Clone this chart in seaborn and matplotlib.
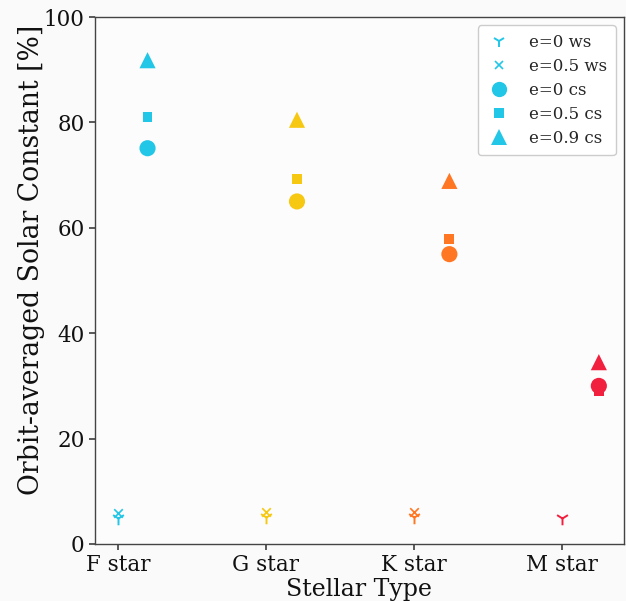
import numpy as np
import pandas as pd
import matplotlib
matplotlib.use("Agg")
import matplotlib.pyplot as plt
import seaborn as sns
from matplotlib.lines import Line2D

stellar_types = ["F star", "G star", "K star", "M star"]
star_colors = ["#22c6e6", "#f7c812", "#ff7722", "#f2203f"]

e0_ws = [5.0, 5.1, 5.1, 5.0]
e05_ws = [5.9, 6.0, 6.0, np.nan]
e0_cs = [75.1, 65.0, 55.0, 30.0]
e05_cs = [81.0, 69.3, 57.8, 29.0]
e09_cs = [91.8, 80.5, 68.9, 34.5]

series_labels = ["e=0 ws", "e=0.5 ws", "e=0 cs", "e=0.5 cs", "e=0.9 cs"]

sns.set_theme(style="ticks")
plt.rcParams["font.family"] = ["DejaVu Serif"]

fig = plt.figure(figsize=(6.26, 6.01), dpi=100, facecolor="#fafafa")
ax = fig.add_axes([95/626, 1-544/601, (624-95)/626, (544-17)/601])
ax.set_facecolor("#fcfcfc")

base = np.arange(len(stellar_types))
cs_offsets = np.array([0.2, 0.21, 0.24, 0.25])
series = [
    (e0_ws, "1", False, 95, 1.4),
    (e05_ws, "x", False, 38, 1.2),
    (e0_cs, "o", True, 135, 0),
    (e05_cs, "s", True, 50, 0),
    (e09_cs, "^", True, 135, 0),
]
for vals, m, shifted, s, lw in series:
    xs = base + (cs_offsets if shifted else 0.0)
    df = pd.DataFrame({"x": xs, "y": vals, "t": stellar_types})
    for i, row in df.iterrows():
        if np.isnan(row["y"]):
            continue
        if lw > 0:
            ax.scatter([row["x"]], [row["y"]], marker=m, s=s, c=star_colors[i], linewidths=lw)
        else:
            sns.scatterplot(x=[row["x"]], y=[row["y"]], marker=m, s=s, color=star_colors[i],
                            edgecolor="none", linewidth=0, ax=ax, legend=False)

ax.set_xlim(-0.155, 3.42)
ax.set_ylim(0, 100)
ax.set_xticks(base)
ax.set_xticklabels(stellar_types)
ax.set_yticks([0, 20, 40, 60, 80, 100])
ax.tick_params(labelsize=15.5, length=4, color="#444444", labelcolor="#111111")
ax.set_xlabel("Stellar Type", fontsize=17, labelpad=1, color="#111111")
ax.set_ylabel("Orbit-averaged Solar Constant [%]", fontsize=19.2, color="#111111")
ax.yaxis.set_label_coords(-0.095, 0.54)
for sp in ax.spines.values():
    sp.set_color("#444444")
    sp.set_linewidth(1.0)

handles = [
    Line2D([], [], ls="none", marker="1", ms=9, mew=1.4, color=star_colors[0]),
    Line2D([], [], ls="none", marker="x", ms=6, mew=1.2, color=star_colors[0]),
    Line2D([], [], ls="none", marker="o", ms=11, mew=0, color=star_colors[0]),
    Line2D([], [], ls="none", marker="s", ms=7, mew=0, color=star_colors[0]),
    Line2D([], [], ls="none", marker="^", ms=11, mew=0, color=star_colors[0]),
]
ax.legend(handles, series_labels, loc="upper right", fontsize=12, frameon=True,
          handlelength=1.6, handletextpad=1.0, borderpad=0.5, labelspacing=0.42,
          framealpha=1, edgecolor="#cccccc", facecolor="white", borderaxespad=0.5)

fig.savefig("out.png", dpi=100, facecolor=fig.get_facecolor())
